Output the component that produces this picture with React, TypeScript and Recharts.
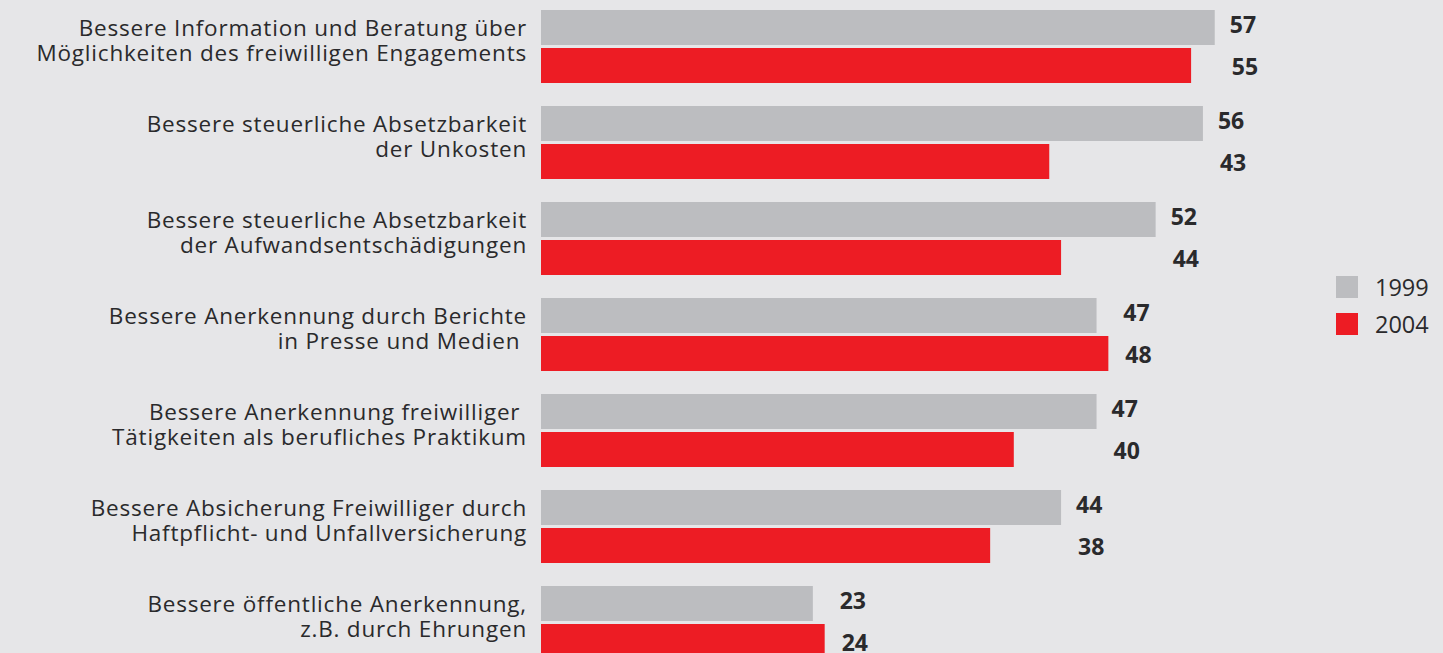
import React from "react";
import { BarChart, Bar, XAxis, YAxis, LabelList, Legend } from "recharts";

const categoryLines: string[][] = [
  ["Bessere Information und Beratung über", "Möglichkeiten des freiwilligen Engagements"],
  ["Bessere steuerliche Absetzbarkeit", "der Unkosten"],
  ["Bessere steuerliche Absetzbarkeit", "der Aufwandsentschädigungen"],
  ["Bessere Anerkennung durch Berichte", "in Presse und Medien "],
  ["Bessere Anerkennung freiwilliger ", "Tätigkeiten als berufliches Praktikum"],
  ["Bessere Absicherung Freiwilliger durch", "Haftpflicht- und Unfallversicherung"],
  ["Bessere öffentliche Anerkennung,", "z.B. durch Ehrungen"],
];
const values1999 = [57, 56, 52, 47, 47, 44, 23];
const values2004 = [55, 43, 44, 48, 40, 38, 24];
const seriesNames = ["1999", "2004"];

const data = categoryLines.map((lines, i) => ({
  name: lines.join(" "),
  idx: i,
  v1999: values1999[i],
  v2004: values2004[i],
}));

const BG = "#e6e6e8";
const GRAY = "#bcbdc0";
const RED = "#ed1c24";
const TEXT = "#2a2a2c";
const FONT = "'Open Sans', sans-serif";

const CategoryTick = (props: any) => {
  const { x, y, index } = props;
  const lines = categoryLines[index] || [];
  return (
    <text
      x={x}
      y={y}
      textAnchor="end"
      fill={TEXT}
      fontFamily={FONT}
      fontSize={22.5}
      letterSpacing={0.8}
      style={{ whiteSpace: "pre" }}
    >
      <tspan x={x} y={y - 10}>{lines[0]}</tspan>
      <tspan x={x} y={y + 15}>{lines[1]}</tspan>
    </text>
  );
};

const makeValueLabel = (seriesIdx: number) => (props: any) => {
  const { x, y, width, height, value, index } = props;
  const maxVal = Math.max(values1999[index], values2004[index]);
  const end = Number(x) + (Number(width) * maxVal) / Number(value);
  const lx = end + (seriesIdx === 0 ? 15 : 17);
  const ly = Number(y) + Number(height) / 2 + (seriesIdx === 0 ? -4 : 0);
  return (
    <text x={lx} y={ly} dominantBaseline="central" fill={TEXT} fontFamily={FONT} fontWeight={700} fontSize={23}>
      {value}
    </text>
  );
};

const LegendContent = () => (
  <div style={{ fontFamily: FONT }}>
    {seriesNames.map((n, i) => (
      <div key={n} style={{ display: "flex", alignItems: "center", height: 37 }}>
        <div style={{ width: 22, height: 22, background: i === 0 ? GRAY : RED }} />
        <span style={{ marginLeft: 17, fontSize: 23.5, color: TEXT }}>{n}</span>
      </div>
    ))}
  </div>
);

export default function App() {
  return (
    <div style={{ position: "absolute", left: 0, top: 0, width: 1443, height: 653, overflow: "hidden", background: BG }}>
      <div style={{ position: "absolute", left: 0, top: -2 }}>
        <BarChart
          width={1443}
          height={672}
          data={data}
          layout="vertical"
          margin={{ top: 0, right: 15.5, bottom: 0, left: 0 }}
          barSize={35}
          barGap={3}
        >
          <XAxis type="number" domain={[0, 75]} hide />
          <YAxis
            type="category"
            dataKey="name"
            width={541}
            axisLine={false}
            tickLine={false}
            tickSize={0}
            tickMargin={14}
            interval={0}
            tick={<CategoryTick />}
          />
          <Legend
            layout="vertical"
            align="center"
            verticalAlign="middle"
            content={<LegendContent />}
            wrapperStyle={{ position: "absolute", left: 1336, top: 270, width: 110 }}
          />
          <Bar dataKey="v1999" name="1999" fill={GRAY} isAnimationActive={false}>
            <LabelList dataKey="v1999" content={makeValueLabel(0)} />
          </Bar>
          <Bar dataKey="v2004" name="2004" fill={RED} isAnimationActive={false}>
            <LabelList dataKey="v2004" content={makeValueLabel(1)} />
          </Bar>
        </BarChart>
      </div>
    </div>
  );
}
